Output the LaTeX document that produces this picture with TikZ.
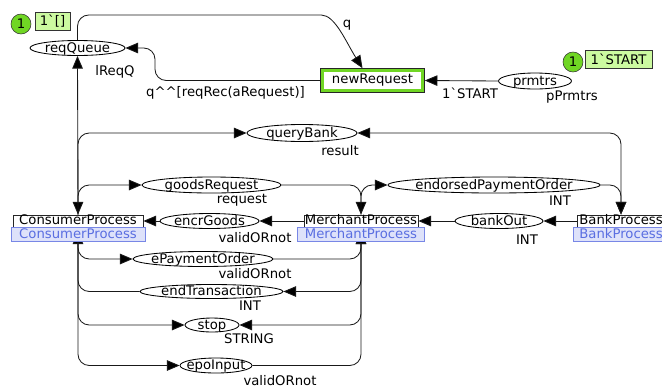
\documentclass[tikz,border=0pt]{standalone}
\usepackage{fontspec}
\setmainfont{DejaVu Sans}[Ligatures=TeXOff]
\usetikzlibrary{arrows.meta,positioning,shapes.geometric}
\definecolor{cpngreen}{RGB}{112,214,36}
\definecolor{marklight}{RGB}{204,250,160}
\definecolor{tagfill}{RGB}{222,226,250}
\definecolor{tagdraw}{RGB}{120,135,230}
\definecolor{tagtext}{RGB}{90,110,225}
\newlength{\gridpx}
\setlength{\gridpx}{0.025cm}
\newcommand{\cpnfont}{\fontsize{9.4}{11}\selectfont}

\begin{document}
\begin{tikzpicture}[x=0.025cm, y=-0.025cm, font=\cpnfont,
  place/.style={ellipse, draw=black, line width=0.6pt, fill=white, inner xsep=-4pt, inner ysep=0pt,
    text height=6.6pt, text depth=0.4pt, minimum height=15\gridpx},
  trans/.style={rectangle, draw=black!85, line width=0.6pt, fill=white, inner sep=0pt,
    minimum height=12\gridpx, text height=6.6pt, text depth=1.8pt},
  subtag/.style={rectangle, draw=tagdraw, fill=tagfill, text=tagtext, inner sep=0pt,
    minimum height=14\gridpx, text height=6.6pt, text depth=1.8pt},
  token/.style={circle, draw=black!80, fill=cpngreen, inner sep=0pt, minimum size=20\gridpx},
  marking/.style={rectangle, draw=black!80, fill=marklight, inner sep=1pt, minimum height=18\gridpx},
  ctype/.style={inner sep=0pt},
  cpnarc/.style={draw=black!90, line width=0.6pt, rounded corners=8pt,
    -{Triangle[length=9pt,width=7.5pt,fill=black]}},
  cpnboth/.style={cpnarc, {Triangle[length=9pt,width=7.5pt,fill=black]}-{Triangle[length=9pt,width=7.5pt,fill=black]}},
  hidtip/.style={shorten >=4\gridpx}]
  \useasboundingbox (0,0) rectangle (662,389);

  % Places
  \node[place, minimum width=95\gridpx] (reqQueue) at (77.5,48) {reqQueue};
  \node[place, minimum width=73\gridpx, minimum height=16\gridpx] (prmtrs) at (535,81) {prmtrs};
  \node[place, minimum width=110\gridpx, minimum height=17\gridpx] (queryBank) at (302,133) {queryBank};
  \node[place, minimum width=139\gridpx, minimum height=16\gridpx] (goodsRequest) at (211.5,185) {goodsRequest};
  \node[place, minimum width=212\gridpx, minimum height=16\gridpx] (endorsedPaymentOrder) at (494,185) {endorsedPaymentOrder};
  \node[place, minimum width=99\gridpx] (encrGoods) at (209.5,221) {encrGoods};
  \node[place, minimum width=88\gridpx] (bankOut) at (499,221) {bankOut};
  \node[place, minimum width=140\gridpx] (ePaymentOrder) at (203,259) {ePaymentOrder};
  \node[place, minimum width=143\gridpx, minimum height=14\gridpx] (endTransaction) at (211.5,291.5) {endTransaction};
  \node[place, minimum width=54\gridpx, minimum height=14\gridpx] (stop) at (212,325) {stop};
  \node[place, minimum width=72\gridpx] (epoInput) at (216,365.5) {epoInput};

  % Colour sets
  \node[ctype] (lReqQType) at (115,72) {lReqQ};
  \node[ctype] (prmtrsType) at (572,97) {pPrmtrs};
  \node[ctype] (resultType) at (340,151) {result};
  \node[ctype] (requestType) at (242,200) {request};
  \node[ctype] (epoType) at (560,201) {INT};
  \node[ctype] (encrType) at (255,238) {validORnot};
  \node[ctype] (bankOutType) at (527,240) {INT};
  \node[ctype] (ePayType) at (255,274) {validORnot};
  \node[ctype] (endType) at (250,306) {INT};
  \node[ctype] (stopType) at (249,339) {STRING};
  \node[ctype] (epoInType) at (280,381) {validORnot};

  % Initial markings
  \node[token] (reqQueueTok) at (21,24) {1};
  \node[marking, minimum width=35\gridpx] (reqQueueMark) at (52.5,21) {1`[]};
  \node[token] (prmtrsTok) at (573,62) {1};
  \node[marking, minimum width=67\gridpx] (prmtrsMark) at (618.5,59.5) {1`START};

  % Transitions
  \node[trans, minimum width=130\gridpx] (ConsumerProcess) at (78,221) {ConsumerProcess};
  \node[trans, minimum width=114\gridpx] (MerchantProcess) at (361,221) {MerchantProcess};
  \node[trans, minimum width=88\gridpx] (BankProcess) at (621,221) {BankProcess};
  \node[trans, draw=cpngreen, line width=2.5pt, minimum width=101\gridpx, minimum height=21\gridpx] (newRequest) at (372.5,80.5) {newRequest};
  \draw[black!85, line width=0.6pt] (newRequest.north west) rectangle (newRequest.south east);

  % Arcs of the top page
  \draw[cpnarc] (reqQueue.north) |- (310,15) [sharp corners] .. controls (335,15) and (346,42) .. ([xshift=-10\gridpx]newRequest.north);
  \draw[cpnarc] (newRequest.west) -| (155,48) -- (reqQueue.east);
  \draw[cpnarc] (prmtrs.west) -- (newRequest.east);
  \draw[cpnarc] (ConsumerProcess.north) -- (reqQueue.south);
  \draw[cpnboth] (queryBank.west) -| (ConsumerProcess.north);
  \draw[cpnboth] (queryBank.east) -| (BankProcess.north);
  \draw[cpnarc] (ConsumerProcess.north) |- (goodsRequest.west);
  \draw[cpnarc] (goodsRequest.east) -| (MerchantProcess.north);
  \draw[cpnarc] (MerchantProcess.north) |- (endorsedPaymentOrder.west);
  \draw[cpnarc] (endorsedPaymentOrder.east) -| (BankProcess.north);
  \draw[cpnarc] (MerchantProcess.west) -- (encrGoods.east);
  \draw[cpnarc] (encrGoods.west) -- (ConsumerProcess.east);
  \draw[cpnarc] (BankProcess.west) -- (bankOut.east);
  \draw[cpnarc] (bankOut.west) -- (MerchantProcess.east);
  \draw[cpnarc] (ConsumerProcess.south) |- (ePaymentOrder.west);
  \draw[cpnarc, hidtip] (ePaymentOrder.east) -| (MerchantProcess.south);
  \draw[cpnarc] (MerchantProcess.south) |- (endTransaction.east);
  \draw[cpnarc, hidtip] (endTransaction.west) -| (ConsumerProcess.south);
  \draw[cpnarc] (ConsumerProcess.south) |- (stop.west);
  \draw[cpnarc] (MerchantProcess.south) |- (stop.east);
  \draw[cpnarc] (ConsumerProcess.south) |- (epoInput.west);
  \draw[cpnarc, hidtip] (epoInput.east) -| (MerchantProcess.south);

  % Arc inscriptions
  \node[ctype] (qInscr) at (347,25) {q};
  \node[ctype] (recInscr) at (225.5,93) {q\textasciicircum\textasciicircum[reqRec(aRequest)]};
  \node[ctype] (startInscr) at (470,93) {1`START};

  % Substitution tags
  \node[subtag, minimum width=134\gridpx, below=0pt of ConsumerProcess] (ConsumerTag) {ConsumerProcess};
  \node[subtag, minimum width=127\gridpx, below=0pt of MerchantProcess] (MerchantTag) {MerchantProcess};
  \node[subtag, minimum width=96\gridpx, below=0pt of BankProcess] (BankTag) {BankProcess};
\end{tikzpicture}
\end{document}
